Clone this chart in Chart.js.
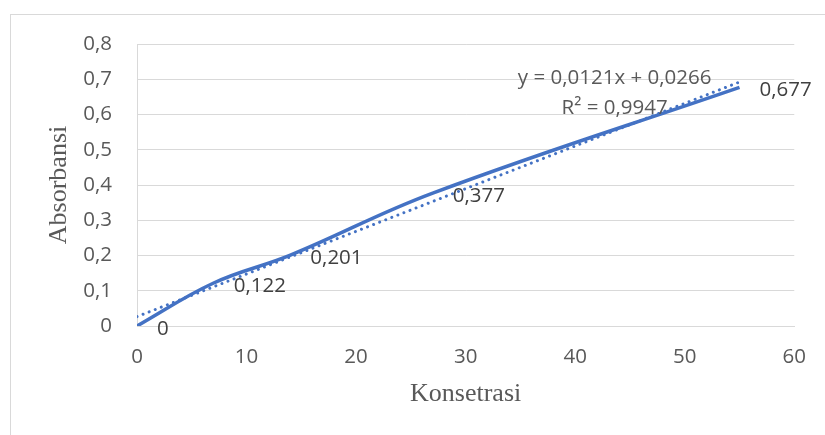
<!DOCTYPE html>
<html>
<head>
<meta charset="utf-8">
<script src="https://cdn.jsdelivr.net/npm/chart.js@4"></script>
<style>
  html, body { margin: 0; padding: 0; background: #fff; }
  #wrap { position: relative; width: 825px; height: 435px; }
</style>
</head>
<body>
<div id="wrap"><canvas id="myChart" width="825" height="435"></canvas></div>
<script>
// data
const konsentrasi = [0, 7, 14, 27, 55];
const absorbansi = [0, 0.122, 0.201, 0.377, 0.677];
const slope = 0.0121;
const intercept = 0.0266;
const rSquared = '0,9947';
const xTicks = [0, 10, 20, 30, 40, 50, 60];
const yTicks = [0, 0.1, 0.2, 0.3, 0.4, 0.5, 0.6, 0.7, 0.8];

const blue = '#4472C4';
const sans = '"Open Sans", "Noto Sans", sans-serif';
const serif = '"Liberation Serif", "DejaVu Serif", serif';
const comma = v => String(v).replace('.', ',');

const points = konsentrasi.map((x, i) => ({ x: x, y: absorbansi[i] }));
const xEnd = konsentrasi[konsentrasi.length - 1];
const trend = [
  { x: 0, y: intercept },
  { x: xEnd, y: intercept + slope * xEnd }
];

const extras = {
  id: 'extras',
  beforeDraw(chart) {
    const c = chart.ctx;
    c.save();
    c.strokeStyle = '#d9d9d9';
    c.lineWidth = 1;
    c.strokeRect(10.5, 14.5, 830, 430);
    c.restore();
  },
  afterDatasetsDraw(chart) {
    const c = chart.ctx;
    const xs = chart.scales.x, ys = chart.scales.y;
    c.save();
    c.font = '20.5px ' + sans;
    c.fillStyle = '#404040';
    c.textBaseline = 'middle';
    c.textAlign = 'left';
    points.forEach(p => {
      c.fillText(comma(p.y), xs.getPixelForValue(p.x) + 20, ys.getPixelForValue(p.y) + 3);
    });
    c.fillStyle = '#595959';
    c.textAlign = 'center';
    c.fillText('y = ' + comma(slope) + 'x + ' + comma(intercept), xs.getPixelForValue(43.6), ys.getPixelForValue(0.704));
    c.fillText('R\u00B2 = ' + rSquared, xs.getPixelForValue(43.6), ys.getPixelForValue(0.618));
    c.restore();
  }
};

const ctx = document.getElementById('myChart').getContext('2d');
const chart = new Chart(ctx, {
  type: 'scatter',
  data: {
    datasets: [{
      label: 'Absorbansi',
      data: points,
      showLine: true,
      borderColor: blue,
      backgroundColor: blue,
      borderWidth: 3.5,
      tension: 0.4,
      pointRadius: 0,
      order: 1
    }, {
      label: 'Linear',
      data: trend,
      showLine: true,
      borderColor: blue,
      borderWidth: 3,
      borderDash: [0.01, 6.5],
      borderCapStyle: 'round',
      pointRadius: 0,
      order: 2
    }]
  },
  options: {
    responsive: false,
    animation: false,
    layout: { padding: { left: 44, top: 44, right: 28, bottom: 25 } },
    plugins: {
      legend: { display: false },
      tooltip: { enabled: false }
    },
    scales: {
      x: {
        type: 'linear',
        min: 0,
        max: 60,
        afterBuildTicks: s => { s.ticks = xTicks.map(v => ({ value: v })); },
        afterFit: s => { s.height = 84; },
        grid: { display: false, drawTicks: false },
        border: { display: true, color: '#d9d9d9' },
        ticks: {
          padding: 19,
          color: '#595959',
          font: { family: sans, size: 20.5 },
          callback: v => comma(v)
        },
        title: {
          display: true,
          text: 'Konsetrasi',
          color: '#595959',
          padding: { top: 0, bottom: 0 },
          font: { family: serif, size: 26 }
        }
      },
      y: {
        min: 0,
        max: 0.8,
        afterBuildTicks: s => { s.ticks = yTicks.map(v => ({ value: v })); },
        afterFit: s => { s.width = 93; },
        grid: { color: '#d9d9d9', drawTicks: false },
        border: { display: true, color: '#d9d9d9' },
        ticks: {
          padding: 25,
          color: '#595959',
          font: { family: sans, size: 20.5 },
          callback: v => comma(Math.round(v * 10) / 10)
        },
        title: {
          display: true,
          text: 'Absorbansi',
          color: '#595959',
          padding: { top: 0, bottom: 0 },
          font: { family: serif, size: 26 }
        }
      }
    }
  },
  plugins: [extras]
});
</script>
</body>
</html>
